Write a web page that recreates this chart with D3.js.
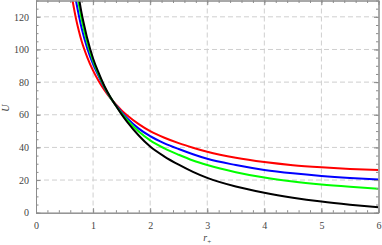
<!DOCTYPE html>
<html>
<head>
<meta charset="utf-8">
<script src="https://cdn.jsdelivr.net/npm/d3@7"></script>
<style>
  body { margin: 0; background: #fff; }
  svg { display: block; }
</style>
</head>
<body>
<div id="chart"></div>
<script>
// values: [r+, U]
var redPts = [[0.64,130],[0.7,119],[0.75,111.5],[0.8,105],[0.9,95],[1.0,87],[1.1,80.5],[1.2,75],[1.3,70.3],[1.4,66.3],[1.5,62.7],[1.6,59.6],[1.8,54.3],[2.0,50],[2.25,45.9],[2.5,42.6],[2.75,39.8],[3,37.3],[3.5,33.6],[4,31],[4.5,29.1],[5,27.8],[5.5,26.8],[6,26.1]];
var bluePts = [[0.7,130],[0.75,121],[0.8,113],[0.9,100.5],[1.0,91],[1.1,83.5],[1.2,76.5],[1.3,70.6],[1.4,65.9],[1.5,61.5],[1.6,57.8],[1.8,51.5],[2.0,46.9],[2.25,42.5],[2.5,39],[2.75,35.8],[3,33],[3.5,29.2],[4,26.2],[4.5,24.1],[5,22.5],[5.5,21.3],[6,20.4]];
var greenPts = [[0.74,130],[0.8,118.5],[0.9,104],[1.0,93],[1.1,84.5],[1.2,77],[1.3,70.8],[1.4,65.6],[1.5,60.8],[1.6,56.7],[1.8,49.7],[2.0,44.3],[2.25,39.4],[2.5,35.5],[2.75,32],[3,29.2],[3.5,24.8],[4,21.5],[4.5,19.1],[5,17.3],[5.5,15.9],[6,14.7]];
var blackPts = [[0.76,130],[0.8,122],[0.85,114],[0.9,106.5],[1.0,94.5],[1.1,85.5],[1.2,77.5],[1.3,71],[1.4,65.5],[1.5,60.2],[1.6,55.5],[1.8,47.3],[2.0,40.5],[2.25,34.4],[2.5,29.4],[2.75,25],[3,21.3],[3.5,16],[4,12.2],[4.5,9.2],[5,6.8],[5.5,4.9],[6,3.3]];

var xTicks = [0, 1, 2, 3, 4, 5, 6];
var yTicks = [0, 20, 40, 60, 80, 100, 120];

var series = [
  {pts: redPts, color: "#ff0000"},
  {pts: bluePts, color: "#0000ff"},
  {pts: greenPts, color: "#00ff00"},
  {pts: blackPts, color: "#000000"}
];

var W = 382, H = 245;
var plotL = 36, plotR = 378.5, plotT = 0.5, plotB = 212.7;

var svg = d3.select("#chart")
  .append("svg")
    .attr("width", W)
    .attr("height", H);

var x = d3.scaleLinear().domain([0, 6]).range([plotL, plotR]);
var y = d3.scaleLinear().domain([0, 130]).range([plotB, plotT]);

// grid
svg.append("g")
  .selectAll("line")
  .data(xTicks.filter(function(d) { return d > 0 && d < 6; }))
  .enter().append("line")
    .attr("x1", function(d) { return x(d); })
    .attr("x2", function(d) { return x(d); })
    .attr("y1", plotT)
    .attr("y2", plotB)
    .attr("stroke", "#cfcfcf")
    .attr("stroke-width", 1)
    .attr("stroke-dasharray", "5,3");

svg.append("g")
  .selectAll("line")
  .data(yTicks.filter(function(d) { return d > 0; }))
  .enter().append("line")
    .attr("x1", plotL)
    .attr("x2", plotR)
    .attr("y1", function(d) { return y(d); })
    .attr("y2", function(d) { return y(d); })
    .attr("stroke", "#cfcfcf")
    .attr("stroke-width", 1)
    .attr("stroke-dasharray", "5,3");

// curves
svg.append("clipPath").attr("id", "clip")
  .append("rect")
    .attr("x", plotL).attr("y", plotT)
    .attr("width", plotR - plotL).attr("height", plotB - plotT);

var line = d3.line()
  .x(function(d) { return x(d[0]); })
  .y(function(d) { return y(d[1]); })
  .curve(d3.curveMonotoneX);

svg.append("g")
  .attr("clip-path", "url(#clip)")
  .selectAll("path")
  .data(series)
  .enter().append("path")
    .attr("d", function(d) { return line(d.pts); })
    .attr("fill", "none")
    .attr("stroke", function(d) { return d.color; })
    .attr("stroke-width", 2);

// frame with ticks on all sides
var frameColor = "#8c8c8c";
var tickFont = "'Liberation Serif', 'Times New Roman', serif";

var xMinor = d3.range(0, 6.001, 0.2);
var yMinor = d3.range(0, 130.001, 5);

function frameAxis(g, axis) {
  g.call(axis);
  g.select(".domain").attr("stroke", frameColor);
  g.selectAll(".tick line").attr("stroke", frameColor);
  g.selectAll(".tick text")
    .attr("fill", "#444")
    .style("font-family", tickFont)
    .style("font-size", "10px");
}

// minor ticks
svg.append("g").attr("transform", "translate(0," + plotB + ")")
  .call(function(g) {
    frameAxis(g, d3.axisBottom(x).tickValues(xMinor).tickSizeInner(-2.5).tickSizeOuter(0).tickFormat(""));
  });
svg.append("g").attr("transform", "translate(0," + plotT + ")")
  .call(function(g) {
    frameAxis(g, d3.axisTop(x).tickValues(xMinor).tickSizeInner(-2.5).tickSizeOuter(0).tickFormat(""));
  });
svg.append("g").attr("transform", "translate(" + plotL + ",0)")
  .call(function(g) {
    frameAxis(g, d3.axisLeft(y).tickValues(yMinor).tickSizeInner(-2.5).tickSizeOuter(0).tickFormat(""));
  });
svg.append("g").attr("transform", "translate(" + plotR + ",0)")
  .call(function(g) {
    frameAxis(g, d3.axisRight(y).tickValues(yMinor).tickSizeInner(-2.5).tickSizeOuter(0).tickFormat(""));
  });

// major ticks and labels
svg.append("g").attr("transform", "translate(0," + plotB + ")")
  .call(function(g) {
    frameAxis(g, d3.axisBottom(x).tickValues(xTicks).tickSizeInner(-4.5).tickSizeOuter(0).tickPadding(9).tickFormat(d3.format("d")));
  });
svg.append("g").attr("transform", "translate(0," + plotT + ")")
  .call(function(g) {
    frameAxis(g, d3.axisTop(x).tickValues(xTicks).tickSizeInner(-4.5).tickSizeOuter(0).tickFormat(""));
  });
svg.append("g").attr("transform", "translate(" + plotL + ",0)")
  .call(function(g) {
    frameAxis(g, d3.axisLeft(y).tickValues(yTicks).tickSizeInner(-4.5).tickSizeOuter(0).tickPadding(7).tickFormat(d3.format("d")));
  });
svg.append("g").attr("transform", "translate(" + plotR + ",0)")
  .call(function(g) {
    frameAxis(g, d3.axisRight(y).tickValues(yTicks).tickSizeInner(-4.5).tickSizeOuter(0).tickFormat(""));
  });

// axis labels
svg.append("text")
  .attr("transform", "translate(9," + y(64) + ") rotate(-90)")
  .attr("text-anchor", "middle")
  .style("font-family", tickFont)
  .style("font-style", "italic")
  .style("font-size", "10px")
  .attr("fill", "#444")
  .text("U");

var rl = svg.append("text")
  .attr("x", x(3))
  .attr("y", 241)
  .attr("text-anchor", "middle")
  .style("font-family", tickFont)
  .style("font-style", "italic")
  .style("font-size", "10px")
  .attr("fill", "#444");
rl.append("tspan").text("r");
rl.append("tspan").attr("dy", 2.5).style("font-size", "7px").style("font-style", "normal").text("+");
</script>
</body>
</html>
